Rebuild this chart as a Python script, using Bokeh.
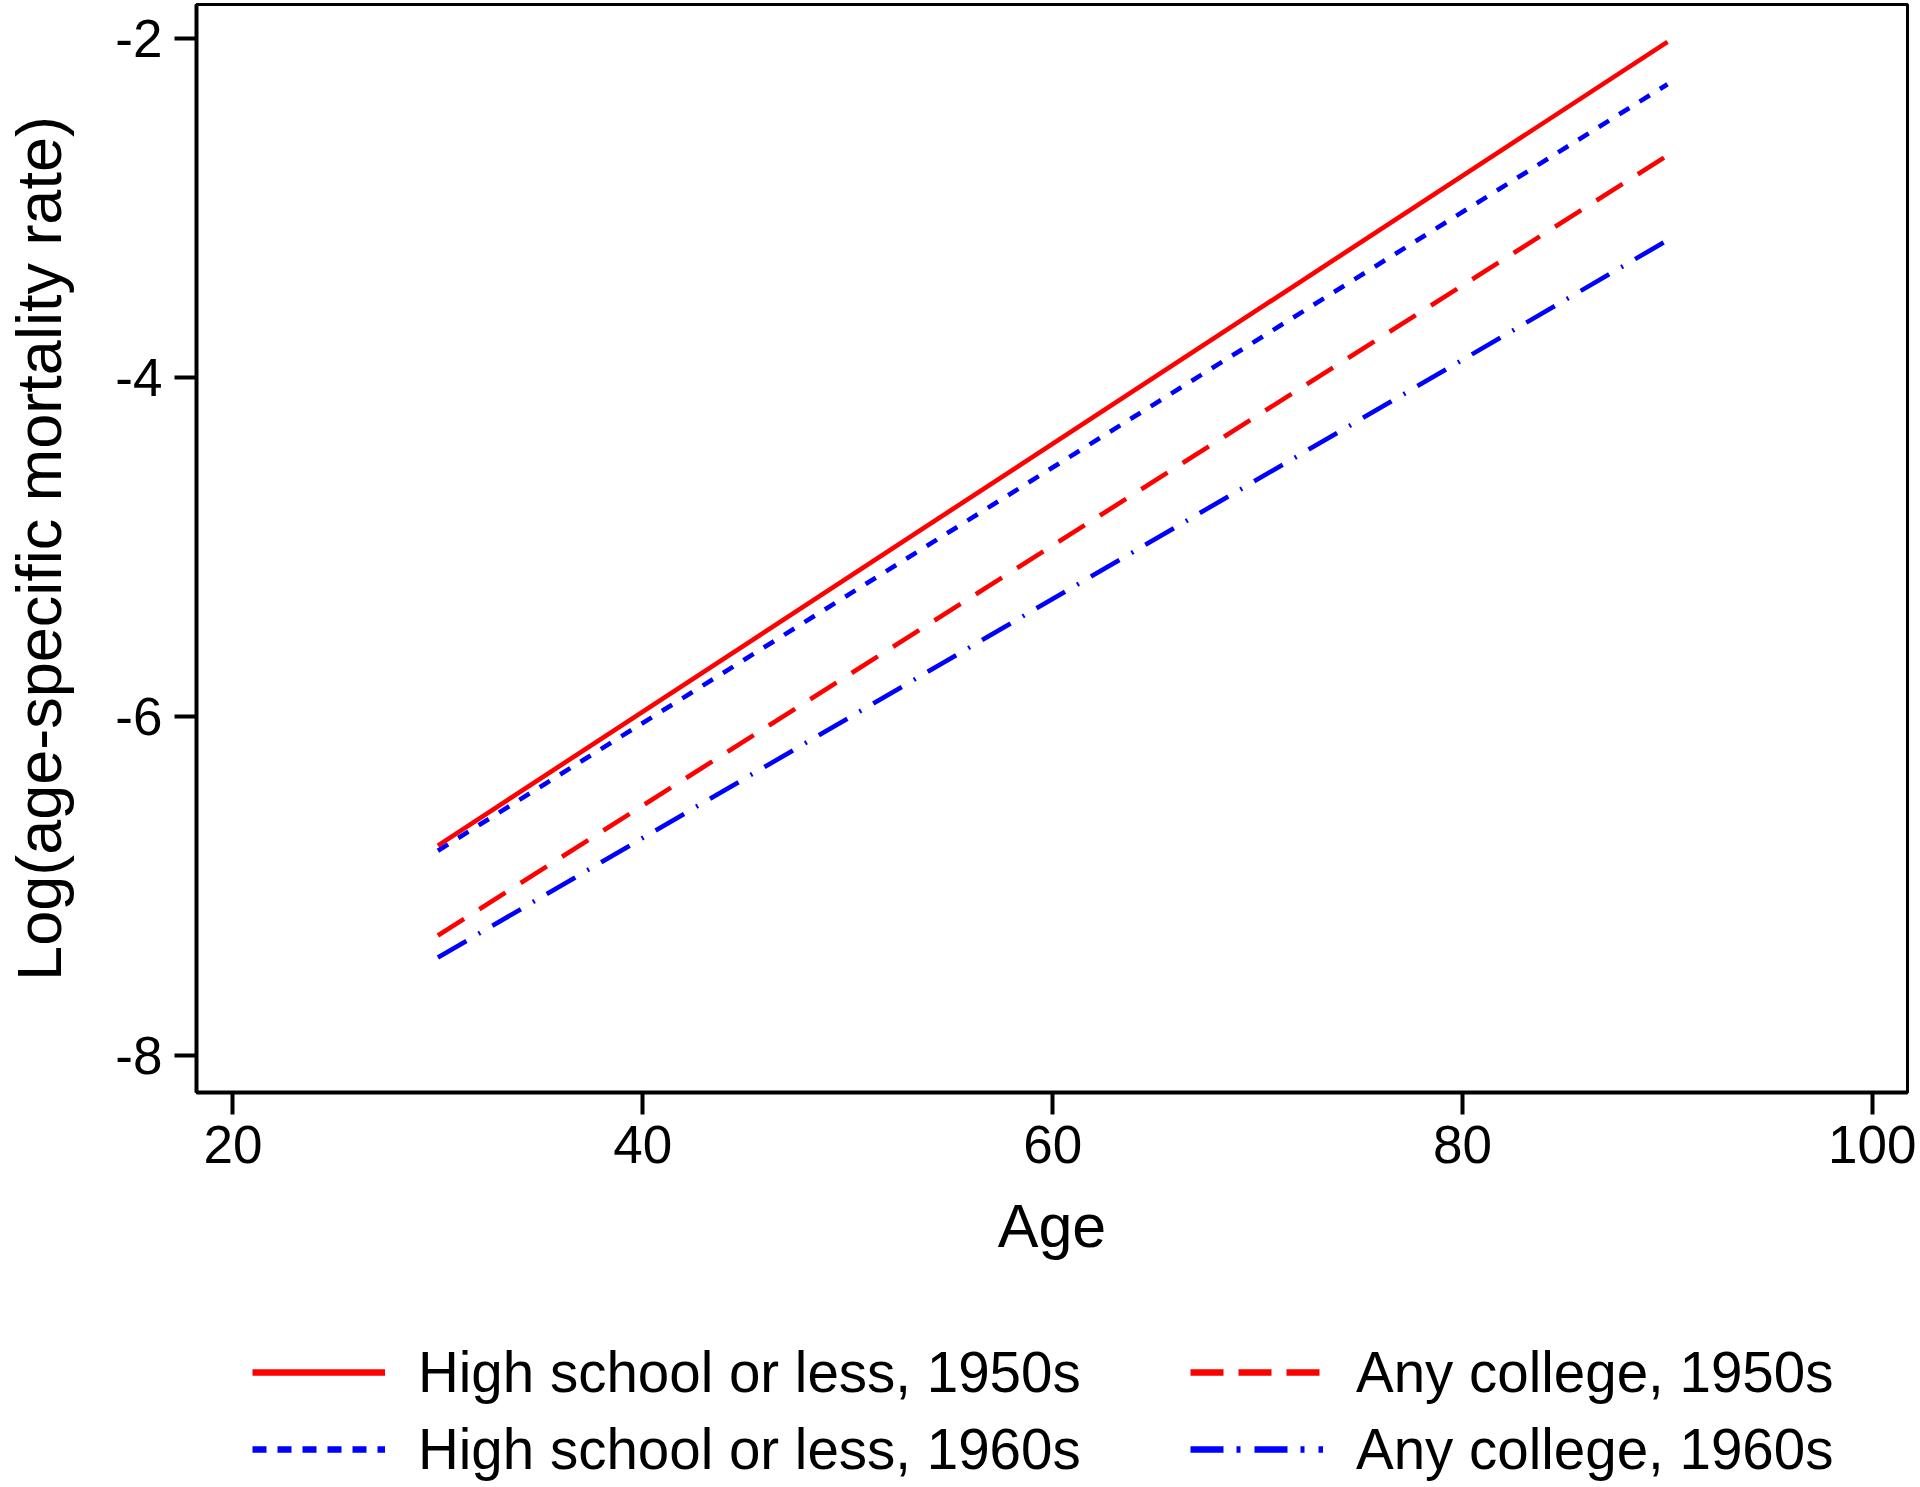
import numpy as np
from bokeh.plotting import figure
from bokeh.layouts import column
from bokeh.models import Range1d, FixedTicker, Legend, LegendItem, CustomJSTickFormatter
from bokeh.embed import file_html
from bokeh.resources import INLINE

# Data (fitted log-linear lines, ages 30-90)
age = [30, 90]
hs_1950s = [-6.76, -2.02]
hs_1960s = [-6.79, -2.27]
college_1950s = [-7.29, -2.69]
college_1960s = [-7.42, -3.19]

series_labels = [
    "High school or less, 1950s",
    "High school or less, 1960s",
    "Any college, 1950s",
    "Any college, 1960s",
]

x_ticks = [20, 40, 60, 80, 100]
y_ticks = [-8, -6, -4, -2]

FONT = "Liberation Sans"
RED = "#FF0000"
BLUE = "#0000FF"

W = 1916
H_MAIN = 1300
H_LEG = 184

# ---------------- main plot ----------------
p = figure(
    width=W, height=H_MAIN,
    output_backend="svg", toolbar_location=None,
    x_range=Range1d(18.22, 101.71), y_range=Range1d(-8.216, -1.80),
    min_border_left=196, min_border_right=9,
    min_border_top=4, min_border_bottom=208,
)

lw = 4.6
styles = [
    dict(line_color=RED, line_dash="solid"),
    dict(line_color=BLUE, line_dash="12 12"),
    dict(line_color=RED, line_dash="31 18"),
    dict(line_color=BLUE, line_dash="33 14 2 14"),
]
series = [hs_1950s, hs_1960s, college_1950s, college_1960s]
for ys, st in zip(series, styles):
    p.line(age, ys, line_width=lw, **st)

p.xaxis.ticker = FixedTicker(ticks=x_ticks)
p.yaxis.ticker = FixedTicker(ticks=y_ticks)
p.xaxis.axis_label = "Age"
p.yaxis.axis_label = "Log(age-specific mortality rate)"
fmt = CustomJSTickFormatter(code="return String(tick);")
p.xaxis.formatter = fmt
p.yaxis.formatter = fmt

p.xgrid.visible = False
p.ygrid.visible = False

for ax in (p.xaxis[0], p.yaxis[0]):
    ax.minor_tick_line_color = None
    ax.major_tick_in = 0
    ax.major_tick_out = 22
    ax.major_tick_line_width = 4
    ax.major_tick_line_color = "black"
    ax.axis_line_width = 4
    ax.axis_line_color = "black"
    ax.major_label_text_font = FONT
    ax.major_label_text_font_size = "53px"
    ax.major_label_text_color = "black"
    ax.axis_label_text_font = FONT
    ax.axis_label_text_font_style = "normal"
    ax.axis_label_text_color = "black"

p.xaxis.axis_label_text_font_size = "61px"
p.yaxis.axis_label_text_font_size = "63px"
p.xaxis.major_label_standoff = 11
p.yaxis.major_label_standoff = 12
p.xaxis.axis_label_standoff = 26
p.yaxis.axis_label_standoff = 38

p.outline_line_color = "black"
p.outline_line_width = 3
p.outline_line_alpha = 1
p.background_fill_color = "white"
p.border_fill_color = "white"

# ---------------- legend strip ----------------
q = figure(
    width=W, height=H_LEG,
    output_backend="svg", toolbar_location=None,
    x_range=Range1d(0, 1), y_range=Range1d(0, 1),
    x_axis_location=None, y_axis_location=None,
    min_border_left=0, min_border_right=0, min_border_top=0, min_border_bottom=0,
)
q.xgrid.visible = False
q.ygrid.visible = False
q.outline_line_color = None
q.background_fill_color = "white"
q.border_fill_color = "white"

leg_styles = [
    dict(line_color=RED, line_dash="solid"),
    dict(line_color=BLUE, line_dash="14 11"),
    dict(line_color=RED, line_dash="33 15"),
    dict(line_color=BLUE, line_dash="33 13 4 14"),
]
nan_pt = np.array([np.nan])
leg_renderers = [q.line(x=nan_pt, y=nan_pt, line_width=6.5, **st) for st in leg_styles]

legend = Legend(
    items=[LegendItem(label=lab, renderers=[r]) for lab, r in zip(series_labels, leg_renderers)],
    location=(56, -2),
    orientation="vertical",
    ncols=2,
    glyph_width=133,
    glyph_height=74,
    label_height=74,
    spacing=3,
    label_standoff=33,
    label_width=769,
    padding=0,
    margin=0,
    border_line_alpha=0,
    background_fill_alpha=0,
    label_text_font=FONT,
    label_text_font_size="56.5px",
    label_text_color="black",
)
q.add_layout(legend)

layout = column(p, q, spacing=0)
open("out.html", "w").write(file_html(layout, INLINE))
